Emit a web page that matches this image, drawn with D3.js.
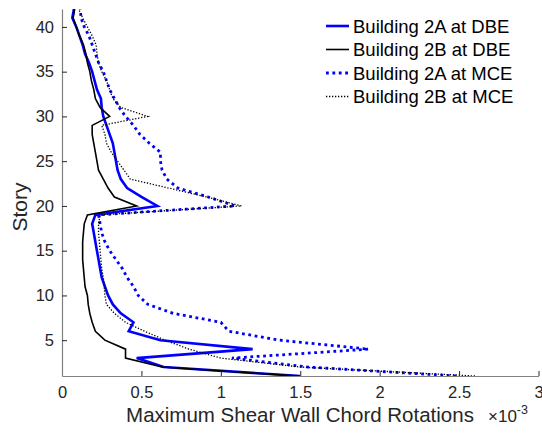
<!DOCTYPE html>
<html><head><meta charset="utf-8">
<script src="https://cdn.jsdelivr.net/npm/d3@7"></script>
<style>body{margin:0;background:#fff}svg{display:block}text{font-family:"Liberation Sans",Arial,sans-serif}</style>
</head><body><svg id="c" width="542" height="436"></svg>
<script>
const stories = [1,2,3,4,5,6,7,8,9,10,11,12,13,14,15,16,17,18,19,20,21,22,23,24,25,26,27,28,29,30,31,32,33,34,35,36,37,38,39,40,41,42];
const b2aDBE = [1.50,0.64,0.47,1.20,0.62,0.42,0.45,0.37,0.32,0.29,0.27,0.25,0.24,0.23,0.22,0.21,0.20,0.19,0.21,0.60,0.50,0.41,0.37,0.35,0.34,0.33,0.32,0.30,0.28,0.26,0.25,0.245,0.22,0.205,0.19,0.17,0.145,0.13,0.11,0.09,0.065,0.075];
const b2bDBE = [1.49,0.63,0.40,0.40,0.27,0.21,0.19,0.175,0.165,0.16,0.145,0.14,0.135,0.13,0.13,0.13,0.135,0.14,0.16,0.47,0.33,0.29,0.26,0.23,0.22,0.21,0.20,0.19,0.19,0.30,0.24,0.21,0.20,0.185,0.175,0.16,0.15,0.135,0.11,0.09,0.07,0.08];
const b2aMCE = [2.48,1.55,1.07,1.93,1.37,1.05,1.00,0.70,0.54,0.48,0.45,0.41,0.38,0.34,0.30,0.27,0.25,0.24,0.23,1.09,0.92,0.73,0.66,0.63,0.62,0.62,0.55,0.49,0.45,0.40,0.36,0.33,0.30,0.28,0.26,0.23,0.21,0.19,0.17,0.14,0.12,0.115];
const b2bMCE = [2.60,1.50,1.00,0.80,0.65,0.52,0.40,0.33,0.28,0.27,0.265,0.26,0.25,0.245,0.24,0.235,0.23,0.23,0.24,1.13,0.91,0.67,0.43,0.39,0.35,0.31,0.28,0.27,0.25,0.54,0.37,0.32,0.30,0.28,0.25,0.23,0.22,0.215,0.19,0.16,0.13,0.105];
const seriesNames = ["Building 2A at DBE","Building 2B at DBE","Building 2A at MCE","Building 2B at MCE"];
const xTicks = [0,0.5,1,1.5,2,2.5,3];
const xTickLabels = ["0","0.5","1","1.5","2","2.5","3"];
const yTicks = [5,10,15,20,25,30,35,40];

const styles = [
  {color:"#0000ff", w:2.6, dash:null},
  {color:"#000000", w:1.6, dash:null},
  {color:"#0000ff", w:2.8, dash:"2.8,3.6"},
  {color:"#000000", w:1.3, dash:"1.3,1.7"}
];
const data = [b2aDBE,b2bDBE,b2aMCE,b2bMCE];

const svg = d3.select("#c");
const x = d3.scaleLinear().domain([0,3]).range([62,538.5]);
const y = d3.scaleLinear().domain([1,42]).range([376,9]);

svg.append("clipPath").attr("id","clip").append("rect")
  .attr("x",62).attr("y",9).attr("width",480).attr("height",367);

const line = d3.line().x(d=>x(d[0])).y(d=>y(d[1]));
const g = svg.append("g").attr("clip-path","url(#clip)");
data.forEach((arr,i)=>{
  const pts = arr.map((v,k)=>[v,stories[k]]);
  const p = g.append("path").datum(pts).attr("d",line)
    .attr("fill","none").attr("stroke",styles[i].color)
    .attr("stroke-width",styles[i].w).attr("stroke-linejoin","miter");
  if(styles[i].dash) p.attr("stroke-dasharray",styles[i].dash);
});

const xAxis = d3.axisBottom(x).tickValues(xTicks).tickFormat((d,i)=>xTickLabels[i])
  .tickSizeInner(-5).tickSizeOuter(0).tickPadding(10);
const gx = svg.append("g").attr("transform","translate(0,376)").call(xAxis);
const yAxis = d3.axisLeft(y).tickValues(yTicks).tickSizeInner(-5).tickSizeOuter(0).tickPadding(8);
const gy = svg.append("g").attr("transform","translate(62,0)").call(yAxis);
[gx,gy].forEach(a=>{
  a.select(".domain").attr("stroke","#808080").attr("stroke-width",1.2);
  a.selectAll(".tick line").attr("stroke","#262626").attr("stroke-width",1);
  a.selectAll("text").attr("fill","#262626").style("font-size","16.5px").style("font-family","'Liberation Sans',Arial,sans-serif");
});

svg.append("text").attr("x",300).attr("y",422).attr("text-anchor","middle")
  .attr("fill","#262626").style("font-size","20.5px").text("Maximum Shear Wall Chord Rotations");
const ex = svg.append("text").attr("x",488).attr("y",422).attr("fill","#262626").style("font-size","17px");
ex.append("tspan").text("\u00d710");
ex.append("tspan").attr("dy",-8).style("font-size","12.5px").text("-3");

svg.append("text").attr("transform","translate(27,207) rotate(-90)").attr("text-anchor","middle")
  .attr("fill","#262626").style("font-size","21px").text("Story");

const legY = [26,49.5,73,96.5];
seriesNames.forEach((n,i)=>{
  const l = svg.append("line").attr("x1",326).attr("x2",349).attr("y1",legY[i]).attr("y2",legY[i])
    .attr("stroke",styles[i].color).attr("stroke-width",styles[i].w);
  if(styles[i].dash) l.attr("stroke-dasharray",styles[i].dash);
  svg.append("text").attr("x",353).attr("y",legY[i]).attr("dy","0.36em")
    .attr("fill","#000").style("font-size","18.5px").text(n);
});
</script></body></html>
